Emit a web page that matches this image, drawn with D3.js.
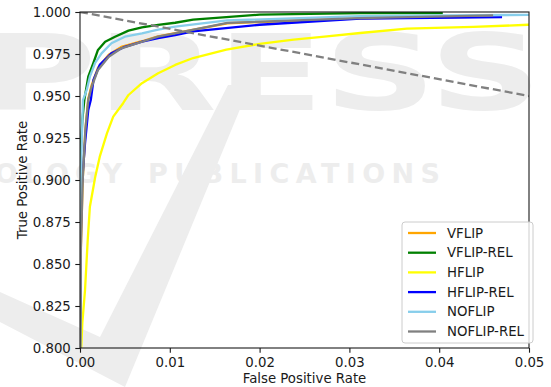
<!DOCTYPE html>
<html>
<head>
<meta charset="utf-8">
<script src="https://cdn.jsdelivr.net/npm/d3@7"></script>
<style>
  body { margin: 0; background: #fff; }
  svg { display: block; font-family: "DejaVu Sans", sans-serif; }
</style>
</head>
<body>
<div id="chart"></div>
<script>
// ROC curves, [false positive rate, true positive rate]
const vflip = [[0, 0.79], [0.0001, 0.86], [0.0003, 0.90], [0.0006, 0.93], [0.00092, 0.9484], [0.0013, 0.9565], [0.0020, 0.9668], [0.0032, 0.9745], [0.0046, 0.9792], [0.0069, 0.9826], [0.0087, 0.9855], [0.0106, 0.9874], [0.0164, 0.9933], [0.0312, 0.9962], [0.046, 0.9972]];
const vflipRel = [[0, 0.79], [0.0001, 0.92], [0.00026, 0.9357], [0.00048, 0.9476], [0.00092, 0.9615], [0.00148, 0.9695], [0.0020, 0.9774], [0.0028, 0.9823], [0.0039, 0.9853], [0.0054, 0.9889], [0.0069, 0.9909], [0.0087, 0.9923], [0.0106, 0.9936], [0.0126, 0.9954], [0.0200, 0.9984], [0.0312, 0.9993], [0.0404, 0.9994]];
const hflip = [[0.00005, 0.79], [0.00026, 0.8149], [0.00056, 0.8345], [0.00086, 0.8643], [0.0011, 0.8841], [0.0015, 0.896], [0.0017, 0.902], [0.0022, 0.9139], [0.0030, 0.9278], [0.0037, 0.9377], [0.0048, 0.9457], [0.0054, 0.9506], [0.0069, 0.9576], [0.0087, 0.9635], [0.0106, 0.9685], [0.0126, 0.9726], [0.0163, 0.9776], [0.0200, 0.9810], [0.0238, 0.9835], [0.0275, 0.9855], [0.0312, 0.9875], [0.0364, 0.9901], [0.0438, 0.9911], [0.0499, 0.9924], [0.052, 0.9926]];
const hflipRel = [[0, 0.79], [0.0001, 0.87], [0.00022, 0.898], [0.00056, 0.922], [0.00092, 0.9417], [0.0012, 0.9476], [0.0015, 0.9595], [0.0022, 0.9685], [0.0035, 0.9754], [0.0050, 0.9793], [0.0069, 0.9823], [0.0087, 0.9845], [0.0106, 0.9863], [0.0126, 0.9885], [0.0200, 0.9924], [0.0312, 0.996], [0.047, 0.997]];
const noflip = [[0, 0.79], [0.00008, 0.888], [0.00017, 0.918], [0.00033, 0.9476], [0.00075, 0.9536], [0.0011, 0.9615], [0.00167, 0.9695], [0.0024, 0.9754], [0.0035, 0.9814], [0.0050, 0.9853], [0.0069, 0.9873], [0.0087, 0.9895], [0.0106, 0.9913], [0.0164, 0.9950], [0.0312, 0.9975], [0.052, 0.9984]];
const noflipRel = [[0, 0.79], [0.0001, 0.86], [0.0003, 0.90], [0.0006, 0.93], [0.00092, 0.9476], [0.0013, 0.9555], [0.0020, 0.9655], [0.0032, 0.9734], [0.0046, 0.9784], [0.0069, 0.9823], [0.0087, 0.9853], [0.0106, 0.9873], [0.0164, 0.9935], [0.0312, 0.9964], [0.046, 0.998]];
const chance = [[0, 1], [1, 0]];

const names = ["VFLIP", "VFLIP-REL", "HFLIP", "HFLIP-REL", "NOFLIP", "NOFLIP-REL"];
const curves = [vflip, vflipRel, hflip, hflipRel, noflip, noflipRel];
const colors = ["orange", "green", "yellow", "blue", "skyblue", "gray"];

const xTicks = [0, 0.01, 0.02, 0.03, 0.04, 0.05];
const yTicks = [0.8, 0.825, 0.85, 0.875, 0.9, 0.925, 0.95, 0.975, 1.0];

const width = 551, height = 387;
const margin = { top: 12, right: 22, bottom: 39, left: 80 };

const svg = d3.select("#chart")
  .append("svg")
  .attr("width", width)
  .attr("height", height);

// faint publisher watermark behind the plot
const wm = svg.append("g").attr("fill", "#ededed");
wm.append("path")
  .attr("d", "M0,292 L100,337 L228,85 L250,85 L125,387 L0,322 Z");
wm.append("text")
  .attr("x", -18).attr("y", 110)
  .attr("font-size", 106).attr("font-weight", "bold")
  .attr("textLength", 560).attr("lengthAdjust", "spacingAndGlyphs")
  .text("PRESS");
wm.append("text")
  .attr("x", 128).attr("y", 183)
  .attr("text-anchor", "end")
  .attr("font-size", 27).attr("font-weight", "bold")
  .attr("letter-spacing", 6)
  .text("TECHNOLOGY");
wm.append("text")
  .attr("x", 148).attr("y", 183)
  .attr("font-size", 27).attr("font-weight", "bold")
  .attr("textLength", 292).attr("lengthAdjust", "spacing")
  .text("PUBLICATIONS");

const x = d3.scaleLinear().domain([0, 0.05]).range([margin.left, width - margin.right]);
const y = d3.scaleLinear().domain([0.8, 1.0]).range([height - margin.bottom, margin.top]);

svg.append("clipPath").attr("id", "clip")
  .append("rect")
  .attr("x", margin.left).attr("y", margin.top)
  .attr("width", x(0.05) - x(0)).attr("height", y(0.8) - y(1.0));

const line = d3.line().x(d => x(d[0])).y(d => y(d[1]));

const plot = svg.append("g").attr("clip-path", "url(#clip)");

plot.selectAll("path.roc")
  .data(curves)
  .join("path")
  .attr("class", "roc")
  .attr("fill", "none")
  .attr("stroke", (d, i) => colors[i])
  .attr("stroke-width", 2.3)
  .attr("stroke-linejoin", "round")
  .attr("d", line);

plot.append("path")
  .attr("fill", "none")
  .attr("stroke", "gray")
  .attr("stroke-width", 2.3)
  .attr("stroke-dasharray", "8,4")
  .attr("d", line(chance));

// axes
const xAxis = svg.append("g")
  .attr("transform", `translate(0,${y(0.8)})`)
  .call(d3.axisBottom(x).tickValues(xTicks).tickFormat(d3.format(".2f")).tickSize(4.7).tickPadding(4.5));
const yAxis = svg.append("g")
  .attr("transform", `translate(${x(0)},0)`)
  .call(d3.axisLeft(y).tickValues(yTicks).tickFormat(d3.format(".3f")).tickSize(4.7).tickPadding(4.5));

[xAxis, yAxis].forEach(a => {
  a.select(".domain").remove();
  a.selectAll("text").attr("font-size", 13.3).attr("fill", "#1a1a1a").attr("font-family", "DejaVu Sans");
  a.selectAll("line").attr("stroke", "#1a1a1a").attr("stroke-width", 1.1);
});

svg.append("rect")
  .attr("x", x(0)).attr("y", y(1.0))
  .attr("width", x(0.05) - x(0)).attr("height", y(0.8) - y(1.0))
  .attr("fill", "none")
  .attr("stroke", "#1a1a1a")
  .attr("stroke-width", 1.1);

svg.append("text")
  .attr("x", (x(0) + x(0.05)) / 2)
  .attr("y", 383)
  .attr("text-anchor", "middle")
  .attr("font-size", 13.3)
  .attr("fill", "#1a1a1a")
  .text("False Positive Rate");

svg.append("text")
  .attr("transform", `translate(27,${(y(0.8) + y(1.0)) / 2}) rotate(-90)`)
  .attr("text-anchor", "middle")
  .attr("font-size", 13.3)
  .attr("fill", "#1a1a1a")
  .text("True Positive Rate");

// legend
const legend = svg.append("g").attr("transform", "translate(402,222)");
legend.append("rect")
  .attr("width", 131).attr("height", 121)
  .attr("rx", 3)
  .attr("fill", "white").attr("fill-opacity", 0.8)
  .attr("stroke", "#cccccc");

const item = legend.selectAll("g.item")
  .data(names)
  .join("g")
  .attr("class", "item")
  .attr("transform", (d, i) => `translate(0,${11 + i * 19.7})`);

item.append("line")
  .attr("x1", 6).attr("x2", 34)
  .attr("stroke", (d, i) => colors[i])
  .attr("stroke-width", 2.3);

item.append("text")
  .attr("x", 45)
  .attr("dy", "0.35em")
  .attr("font-size", 13.3)
  .attr("fill", "#1a1a1a")
  .text(d => d);
</script>
</body>
</html>
